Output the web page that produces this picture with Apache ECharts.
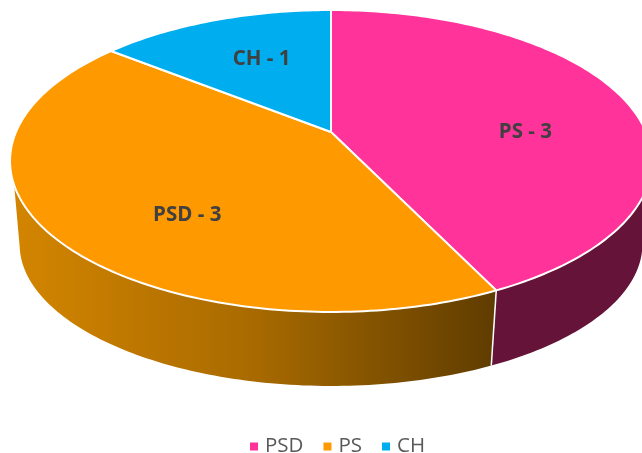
<!DOCTYPE html>
<html>
<head>
<meta charset="utf-8">
<style>html,body{margin:0;padding:0;background:#fff}#c{width:642px;height:453px}</style>
<script src="https://cdn.jsdelivr.net/npm/echarts@6/dist/echarts.min.js"></script>
</head>
<body>
<div id="c"></div>
<script>
const categories = ['PSD', 'PS', 'CH'];
const values = [3, 3, 1];
const sliceLabels = ['PS - 3', 'PSD - 3', 'CH - 1'];
const topColors = ['#FF3399', '#FF9900', '#00AEEF'];

// Projection of the tilted disc (layout, not data)
const view = {cx: 331, cy: 132, w: 315, h: 145.4, p: 0.192, depth: 74, sideDepth: 12, shrink: 0.97,
              rimFrom: 100, rimTo: 250, baseFrom: 102, baseTo: 258};
const labelRadius = [0.617, 0.66, 0.607];
const labelShift = [12.9, -12.9, 2];

const total = values.reduce((a, b) => a + b, 0);
const project = (deg, r) => {
  const t = deg * Math.PI / 180, u = r * Math.sin(t), v = r * Math.cos(t), d = 1 + view.p * v;
  return [view.cx + view.w * u / d, view.cy - view.h * v / d];
};
const lower = deg => {
  const pt = project(deg, 1), v = Math.cos(deg * Math.PI / 180);
  return [view.cx + (pt[0] - view.cx) * view.shrink,
          pt[1] + view.depth + view.sideDepth * Math.max(0, 1 + v)];
};
const sweep = (a, b, fn) => {
  const pts = [], n = Math.max(2, Math.ceil(Math.abs(b - a)));
  for (let i = 0; i <= n; i++) pts.push(fn(a + (b - a) * i / n));
  return pts;
};
const rim = deg => project(deg, 1);
const wallFills = [
  '#651338',
  new echarts.graphic.LinearGradient(0, 0, 1, 0, [
    {offset: 0, color: '#D38500'}, {offset: 0.5, color: '#A86A00'}, {offset: 1, color: '#5F3C00'}
  ]),
  '#00688F'
];

function renderSlice(idx) {
  return function (params, api) {
    const before = values.slice(0, idx).reduce((a, b) => a + b, 0);
    const start = before / total * 360;
    const end = (before + api.value(0)) / total * 360;
    const children = [];
    const from = Math.max(start, view.rimFrom), to = Math.min(end, view.rimTo);
    if (to > from) {
      const lowFrom = Math.max(start, view.baseFrom), lowTo = Math.min(end, view.baseTo);
      children.push({
        type: 'polygon', z2: 1,
        shape: {points: sweep(from, to, rim).concat(sweep(lowTo, lowFrom, lower))},
        style: {fill: wallFills[idx]}
      });
    }
    if (end > view.rimFrom && end < view.rimTo) {
      const e = rim(end), b = lower(end);
      children.push({
        type: 'line', z2: 2,
        shape: {x1: e[0], y1: e[1], x2: b[0], y2: b[1]},
        style: {stroke: '#fff', lineWidth: 1.5}
      });
    }
    children.push({
      type: 'polygon', z2: 3,
      shape: {points: [[view.cx, view.cy]].concat(sweep(start, end, rim))},
      style: {fill: topColors[idx], stroke: '#fff', lineWidth: 2, lineJoin: 'round'}
    });
    const lp = project((start + end) / 2 + labelShift[idx], labelRadius[idx]);
    children.push({
      type: 'text', z2: 4, x: lp[0], y: lp[1],
      style: {text: sliceLabels[idx], fill: '#404040', align: 'center', verticalAlign: 'middle',
              font: 'bold 20.5px "Open Sans"'}
    });
    return {type: 'group', children};
  };
}

const chart = echarts.init(document.getElementById('c'), null, {renderer: 'canvas'});
chart.setOption({
  animation: false,
  backgroundColor: '#fff',
  legend: {
    data: categories, top: 431, left: 245, icon: 'rect',
    itemWidth: 8, itemHeight: 8, itemGap: 20, selectedMode: false,
    textStyle: {color: '#595959', fontSize: 20.5, fontFamily: 'Open Sans', padding: [0, 0, 0, 2]}
  },
  series: categories.map((name, i) => ({
    type: 'custom', name, coordinateSystem: 'none', silent: true,
    itemStyle: {color: topColors[i]},
    data: [[values[i]]],
    renderItem: renderSlice(i)
  }))
});
</script>
</body>
</html>
